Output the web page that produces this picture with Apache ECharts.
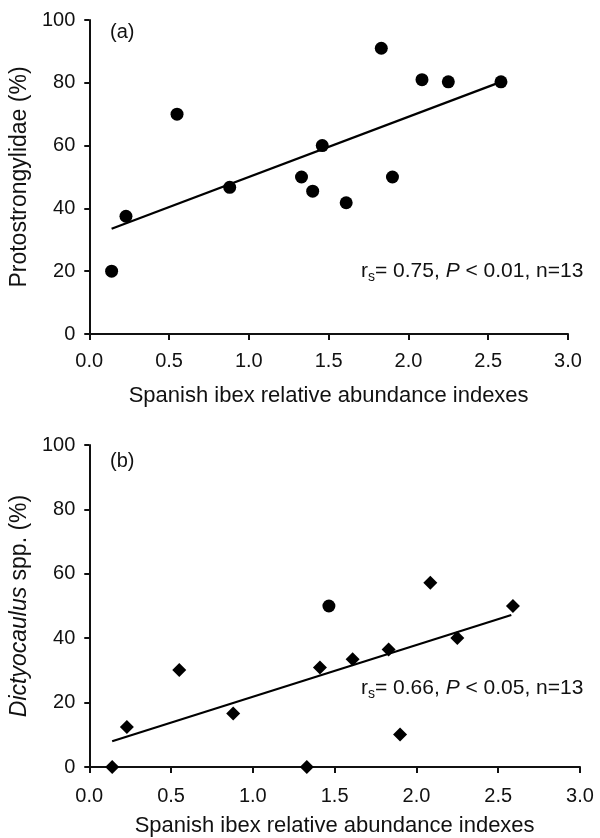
<!DOCTYPE html>
<html>
<head>
<meta charset="utf-8">
<script src="https://cdn.jsdelivr.net/npm/echarts@6/dist/echarts.min.js"></script>
<style>
html,body{margin:0;padding:0;background:#fff;}
#chart{width:600px;height:838px;}
</style>
</head>
<body>
<div id="chart"></div>
<script>
// Panel (a): Protostrongylidae
const xA = [0.14, 0.23, 0.55, 0.88, 1.33, 1.40, 1.46, 1.61, 1.83, 1.90, 2.085, 2.25, 2.58];
const yA = [20, 37.5, 70, 46.7, 50, 45.5, 60, 41.8, 91, 50, 81, 80.3, 80.3];
const trendAx = [0.14, 2.58];
const trendAy = [33.5, 80.3];

// Panel (b): Dictyocaulus spp.
const xB = [0.14, 0.23, 0.55, 0.88, 1.33, 1.41, 1.61, 1.83, 1.90, 2.085, 2.25, 2.59];
const yB = [0, 12.4, 30.1, 16.6, 0, 30.9, 33.5, 36.5, 10.1, 57.2, 40.1, 50];
const xBcircle = [1.465];
const yBcircle = [50];
const trendBx = [0.14, 2.58];
const trendBy = [8.0, 47.2];

const xTicks = [0, 0.5, 1.0, 1.5, 2.0, 2.5, 3.0];
const yTicks = [0, 20, 40, 60, 80, 100];

const FONT = "'Liberation Sans', Arial, Helvetica, sans-serif";
const zip = (a, b) => a.map((v, i) => [v, b[i]]);

function xAxisDef(gridIndex, nameGap, margin) {
  return {
    type: 'value', gridIndex, min: xTicks[0], max: xTicks[xTicks.length - 1], interval: 0.5,
    name: 'Spanish ibex relative abundance indexes', nameLocation: 'middle', nameGap,
    nameTextStyle: {fontFamily: FONT, fontSize: 22, color: '#111'},
    axisLine: {show: true, onZero: false, lineStyle: {color: '#111', width: 2}},
    axisTick: {show: true, inside: false, length: 6, lineStyle: {color: '#111', width: 2}},
    axisLabel: {fontFamily: FONT, fontSize: 20, color: '#111', margin, formatter: v => v.toFixed(1)},
    splitLine: {show: false}
  };
}
function yAxisDef(gridIndex, name, nameGap, rich) {
  return {
    type: 'value', gridIndex, min: yTicks[0], max: yTicks[yTicks.length - 1], interval: 20,
    name, nameLocation: 'middle', nameGap,
    nameTextStyle: {fontFamily: FONT, fontSize: 23, color: '#111', rich},
    axisLine: {show: true, onZero: false, lineStyle: {color: '#111', width: 2}},
    axisTick: {show: true, inside: false, length: 5, lineStyle: {color: '#111', width: 2}},
    axisLabel: {fontFamily: FONT, fontSize: 20, color: '#111', margin: 14},
    splitLine: {show: false}
  };
}

const chart = echarts.init(document.getElementById('chart'), null, {renderer: 'canvas'});
const annRich = {
  it: {fontFamily: FONT, fontSize: 21, fontStyle: 'italic', color: '#111'},
  n: {fontFamily: FONT, fontSize: 21, color: '#111'}
};
function annotation(left, top, rest) {
  return [
    {type: 'text', left: left, top: top, style: {text: 'r', font: '21px ' + FONT, fill: '#111'}},
    {type: 'text', left: left + 7, top: top + 9, style: {text: 's', font: '14px ' + FONT, fill: '#111'}},
    {type: 'text', left: left + 14, top: top, style: {text: rest, rich: annRich, fill: '#111'}}
  ];
}
chart.setOption({
  animation: false,
  backgroundColor: '#fff',
  grid: [
    {left: 87, top: 20, width: 481, height: 314},
    {left: 86, top: 445, width: 494, height: 322}
  ],
  xAxis: [xAxisDef(0, 51, 17), xAxisDef(1, 48, 19)],
  yAxis: [
    yAxisDef(0, 'Protostrongylidae (%)', 57, {}),
    yAxisDef(1, '{i|Dictyocaulus} spp. (%)', 54, {i: {fontFamily: FONT, fontSize: 23, fontStyle: 'italic', color: '#111'}})
  ],
  series: [
    {type: 'scatter', xAxisIndex: 0, yAxisIndex: 0, symbol: 'circle', symbolSize: 13, clip: false,
     itemStyle: {color: '#000', opacity: 1}, data: zip(xA, yA)},
    {type: 'line', xAxisIndex: 0, yAxisIndex: 0, showSymbol: false, symbol: 'none',
     lineStyle: {color: '#000', width: 2.2}, data: zip(trendAx, trendAy)},
    {type: 'scatter', xAxisIndex: 1, yAxisIndex: 1, symbol: 'diamond', symbolSize: 14, clip: false,
     itemStyle: {color: '#000', opacity: 1}, data: zip(xB, yB)},
    {type: 'scatter', xAxisIndex: 1, yAxisIndex: 1, symbol: 'circle', symbolSize: 13, clip: false,
     itemStyle: {color: '#000', opacity: 1}, data: zip(xBcircle, yBcircle)},
    {type: 'line', xAxisIndex: 1, yAxisIndex: 1, showSymbol: false, symbol: 'none',
     lineStyle: {color: '#000', width: 2.2}, data: zip(trendBx, trendBy)}
  ],
  graphic: [
    {type: 'text', left: 110, top: 22, style: {text: '(a)', font: '20px ' + FONT, fill: '#111'}},
    {type: 'text', left: 110, top: 451, style: {text: '(b)', font: '20px ' + FONT, fill: '#111'}}
  ].concat(
    annotation(361, 261, '{n|= 0.75, }{it|P}{n| < 0.01, n=13}'),
    annotation(361, 678, '{n|= 0.66, }{it|P}{n| < 0.05, n=13}')
  )
});
</script>
</body>
</html>
